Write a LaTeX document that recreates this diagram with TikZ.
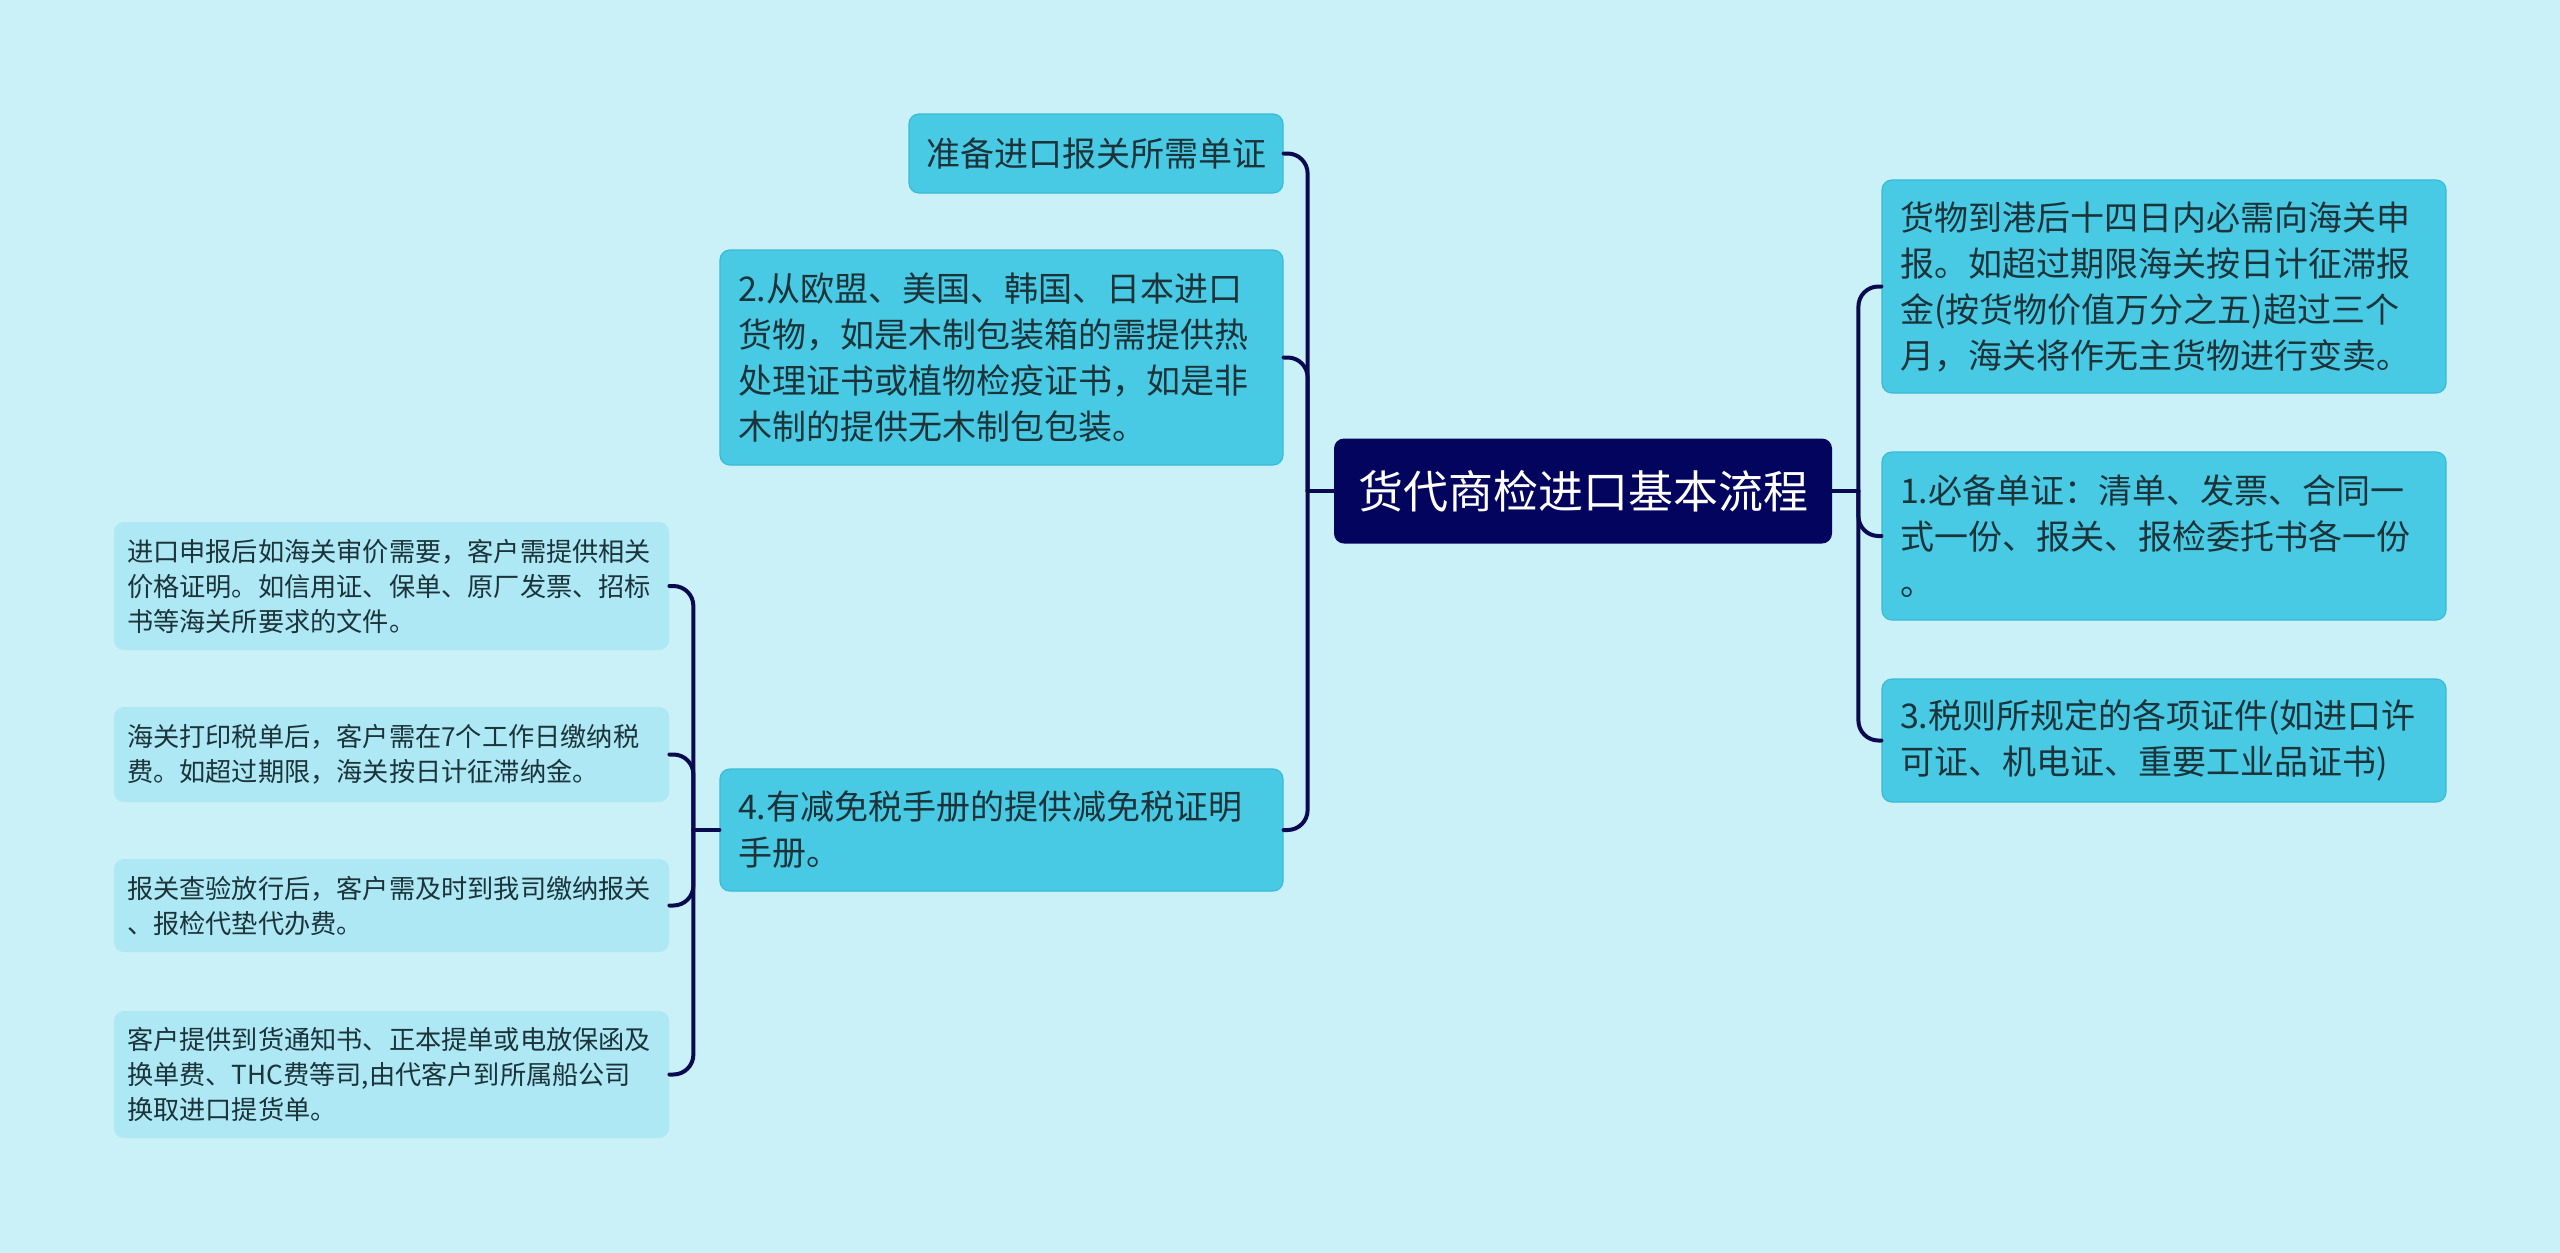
\documentclass[tikz,border=0pt]{standalone}
\usepackage{fontspec}
\setmainfont{Noto Sans CJK SC}
\usetikzlibrary{calc}
\definecolor{bgc}{HTML}{CAF0F8}
\definecolor{midc}{HTML}{48CAE4}
\definecolor{midb}{HTML}{3BBAD6}
\definecolor{leafc}{HTML}{ADE8F4}
\definecolor{rootc}{HTML}{03045E}
\definecolor{linec}{HTML}{0A0A50}
\definecolor{txt}{HTML}{1B3339}
\begin{document}
\begin{tikzpicture}[x=0.5pt,y=-0.5pt,
  midbox/.style={fill=midc, draw=midb, line width=0.6pt, rounded corners=5pt, align=left,
    inner xsep=9pt, inner ysep=0pt, text=txt, font=\fontsize{17}{23}\selectfont, text width=263.5pt},
  leafbox/.style={fill=leafc, rounded corners=5pt, align=left, inner xsep=6.5pt, inner ysep=0pt,
    text=txt, font=\fontsize{13.1}{17.5}\selectfont, text width=264.5pt},
  rootbox/.style={fill=rootc, rounded corners=5pt, text=white, align=center,
    font=\fontsize{22.5}{27}\selectfont, minimum width=249pt, minimum height=52.5pt, inner sep=0pt},
  conn/.style={draw=linec, line width=2pt, rounded corners=10pt, line cap=round}]
\useasboundingbox[fill=bgc] (0,0) rectangle (2560,1253);

\node[rootbox] (root) at (1583,491) {货代商检进口基本流程};

\node[midbox, text width=171pt, align=center, inner xsep=8pt, minimum height=39.5pt] (A) at (1096,153.5) {准备进口报关所需单证};
\node[midbox, minimum height=107.5pt] (B) at (1001.5,357.5) {2.从欧盟、美国、韩国、日本进口\\货物，如是木制包装箱的需提供热\\处理证书或植物检疫证书，如是非\\木制的提供无木制包包装。};
\node[midbox, minimum height=61pt] (C) at (1001.5,830) {4.有减免税手册的提供减免税证明\\手册。};

\node[midbox, text width=264pt, minimum height=106.5pt] (R1) at (2164,286.5) {货物到港后十四日内必需向海关申\\报。如超过期限海关按日计征滞报\\金(按货物价值万分之五)超过三个\\月，海关将作无主货物进行变卖。};
\node[midbox, text width=264pt, minimum height=84pt] (R2) at (2164,536) {1.必备单证：清单、发票、合同一\\式一份、报关、报检委托书各一份\\。};
\node[midbox, text width=264pt, minimum height=61.5pt] (R3) at (2164,740.5) {3.税则所规定的各项证件(如进口许\\可证、机电证、重要工业品证书)};

\node[leafbox, minimum height=64pt] (L1) at (391.5,586) {进口申报后如海关审价需要，客户需提供相关\\价格证明。如信用证、保单、原厂发票、招标\\书等海关所要求的文件。};
\node[leafbox, minimum height=47.5pt] (L2) at (391.5,754.5) {海关打印税单后，客户需在7个工作日缴纳税\\费。如超过期限，海关按日计征滞纳金。};
\node[leafbox, minimum height=46.5pt] (L3) at (391.5,905.5) {报关查验放行后，客户需及时到我司缴纳报关\\、报检代垫代办费。};
\node[leafbox, minimum height=63.5pt] (L4) at (391.5,1074.5) {客户提供到货通知书、正本提单或电放保函及\\换单费、THC费等司,由代客户到所属船公司\\换取进口提货单。};

\coordinate (jl) at ($(root.west)+(-26,0)$);
\coordinate (jr) at ($(root.east)+(26,0)$);
\coordinate (jc) at ($(C.west)+(-26,0)$);

\draw[conn] (root.west) -- (jl);
\draw[conn] (jl) |- (A.east);
\draw[conn] (jl) |- (B.east);
\draw[conn] (jl) |- (C.east);

\draw[conn] (root.east) -- (jr);
\draw[conn] (jr) |- (R1.west);
\draw[conn] (jr) |- (R2.west);
\draw[conn] (jr) |- (R3.west);

\draw[conn] (C.west) -- (jc);
\draw[conn] (jc) |- (L1.east);
\draw[conn] (jc) |- (L2.east);
\draw[conn] (jc) |- (L3.east);
\draw[conn] (jc) |- (L4.east);
\end{tikzpicture}
\end{document}
